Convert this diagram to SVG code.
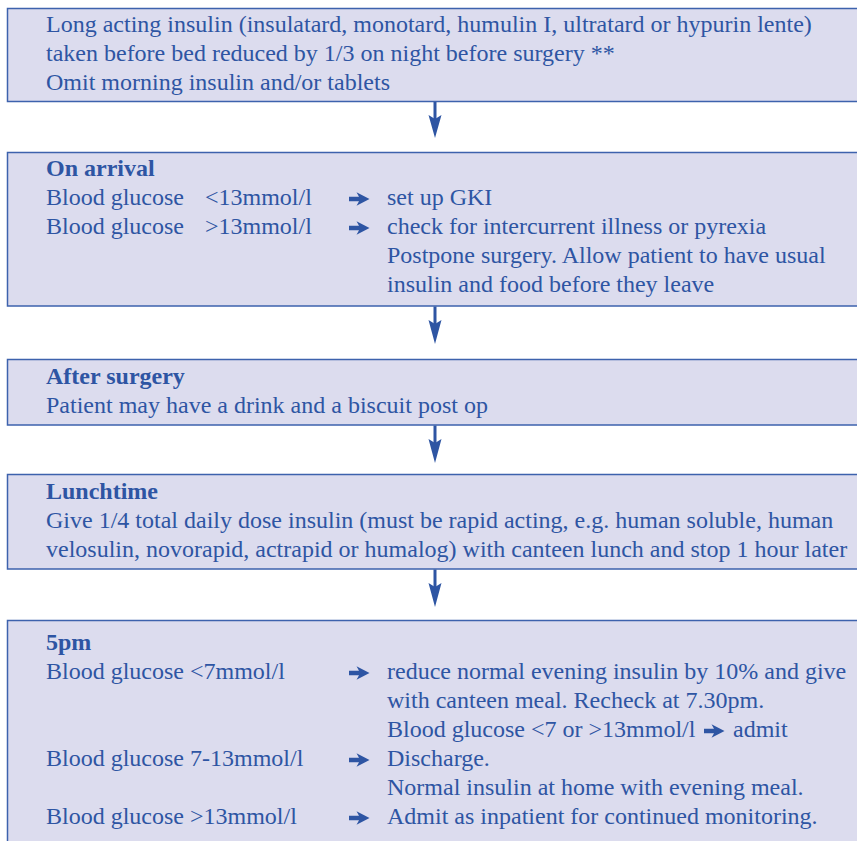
<svg xmlns="http://www.w3.org/2000/svg" width="857" height="841" viewBox="0 0 857 841">
<style>
.box{fill:#dcdcee;stroke:#3d62ad;stroke-width:1.5}
svg text.s{font-family:'Liberation Serif','Times New Roman',serif;font-size:24px;fill:#2e55a3}
svg text.b{font-weight:bold}
.conn line{stroke:#2e55a3;stroke-width:3}
.conn polygon{fill:#2e55a3}
.ia{fill:#2e55a3}
</style>
<defs>
<symbol id="ar" overflow="visible"><polygon points="0,-2.2 10,-2.2 7.5,-6.8 20.5,0 7.5,6.8 10,2.2 0,2.2"/></symbol>
</defs>
<g id="node1">
<rect class="box" x="7.5" y="8.5" width="860" height="93"/>
<text class="s" x="46" y="32">Long acting insulin (insulatard, monotard, humulin I, ultratard or hypurin lente)</text>
<text class="s" x="46" y="61">taken before bed reduced by 1/3 on night before surgery **</text>
<text class="s" x="46" y="90">Omit morning insulin and/or tablets</text>
</g>
<g id="node2">
<rect class="box" x="7.5" y="152.5" width="860" height="153.5"/>
<text class="s b" x="46" y="176">On arrival</text>
<text class="s" x="46" y="205">Blood glucose</text><text class="s" x="205" y="205">&lt;13mmol/l</text>
<use href="#ar" class="ia" x="349" y="199"/>
<text class="s" x="387" y="205">set up GKI</text>
<text class="s" x="46" y="234">Blood glucose</text><text class="s" x="205" y="234">&gt;13mmol/l</text>
<use href="#ar" class="ia" x="349" y="228"/>
<text class="s" x="387" y="234">check for intercurrent illness or pyrexia</text>
<text class="s" x="387" y="263">Postpone surgery. Allow patient to have usual</text>
<text class="s" x="387" y="292">insulin and food before they leave</text>
</g>
<g id="node3">
<rect class="box" x="7.5" y="359.5" width="860" height="65.5"/>
<text class="s b" x="46" y="383.5">After surgery</text>
<text class="s" x="46" y="412.5">Patient may have a drink and a biscuit post op</text>
</g>
<g id="node4">
<rect class="box" x="7.5" y="474.5" width="860" height="94.5"/>
<text class="s b" x="46" y="499">Lunchtime</text>
<text class="s" x="46" y="528">Give 1/4 total daily dose insulin (must be rapid acting, e.g. human soluble, human</text>
<text class="s" x="46" y="557">velosulin, novorapid, actrapid or humalog) with canteen lunch and stop 1 hour later</text>
</g>
<g id="node5">
<rect class="box" x="7.5" y="620.5" width="860" height="230"/>
<text class="s b" x="46" y="650">5pm</text>
<text class="s" x="46" y="679">Blood glucose &lt;7mmol/l</text>
<use href="#ar" class="ia" x="349" y="673"/>
<text class="s" x="387" y="679">reduce normal evening insulin by 10% and give</text>
<text class="s" x="387" y="708">with canteen meal. Recheck at 7.30pm.</text>
<text class="s" x="387" y="737">Blood glucose &lt;7 or &gt;13mmol/l</text>
<use href="#ar" class="ia" x="704" y="731"/>
<text class="s" x="733" y="737">admit</text>
<text class="s" x="46" y="766">Blood glucose 7-13mmol/l</text>
<use href="#ar" class="ia" x="349" y="760"/>
<text class="s" x="387" y="766">Discharge.</text>
<text class="s" x="387" y="795">Normal insulin at home with evening meal.</text>
<text class="s" x="46" y="824">Blood glucose &gt;13mmol/l</text>
<use href="#ar" class="ia" x="349" y="818"/>
<text class="s" x="387" y="824">Admit as inpatient for continued monitoring.</text>
</g>
<g id="connectors" class="conn">
<line x1="435" y1="102" x2="435" y2="120"/>
<polygon points="428.5,115 435,119 441.5,115 435,138"/>
<line x1="435" y1="306.5" x2="435" y2="325"/>
<polygon points="428.5,320 435,324 441.5,320 435,344"/>
<line x1="435" y1="425.5" x2="435" y2="444"/>
<polygon points="428.5,439 435,443 441.5,439 435,463"/>
<line x1="435" y1="569.5" x2="435" y2="588"/>
<polygon points="428.5,583 435,587 441.5,583 435,607"/>
</g>
</svg>
